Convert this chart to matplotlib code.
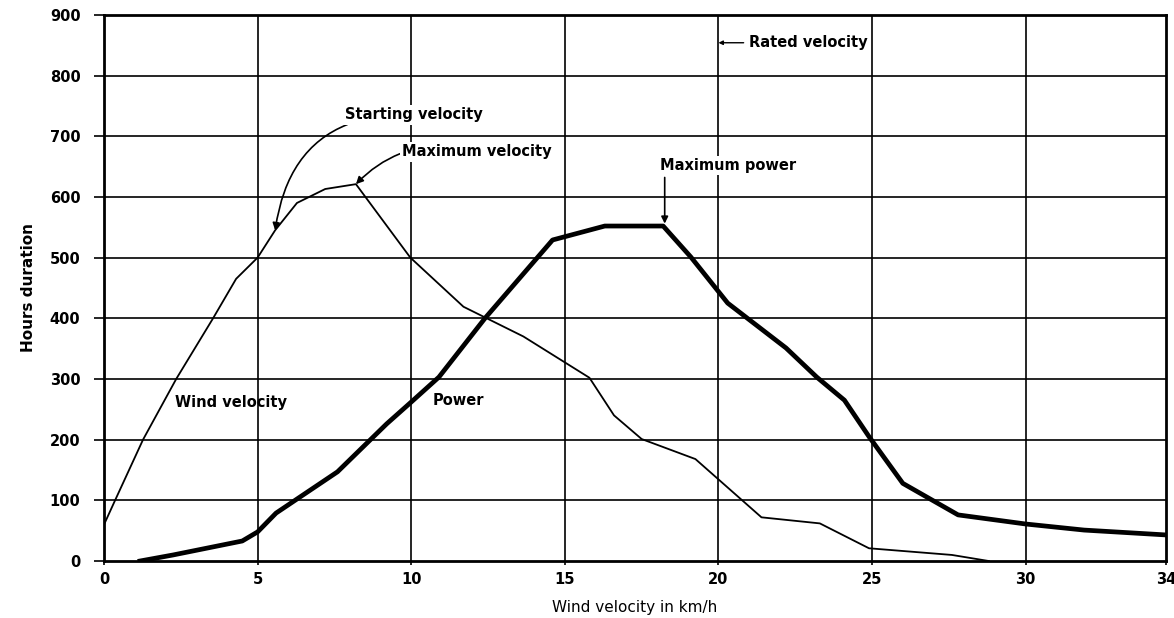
import matplotlib
matplotlib.use("Agg")
import matplotlib.pyplot as plt

# Wind velocity (hours duration) - thin curve
wind_x = [0, 0.36, 1.27, 2.35, 3.55, 4.3, 5.0, 5.57, 6.28, 7.2, 8.2,
          9.97, 11.7, 13.65, 15.8, 16.6, 17.5, 19.25, 21.4, 23.3, 24.9,
          27.6, 28.8]
wind_y = [60, 100, 200, 300, 400, 465, 500, 545, 590, 613, 621,
          500, 419, 370, 302, 240, 201, 168, 72, 62, 21,
          10, 0]

# Power (hours duration) - thick curve
power_x = [1.17, 2.25, 4.5, 5.0, 5.6, 7.6, 9.2, 10.0, 10.9, 12.4, 14.6,
           16.3, 18.2, 19.1, 20.3, 22.2, 23.2, 24.1, 24.9, 26.0, 27.8,
           30.0, 31.9, 34.56]
power_y = [0, 10, 33, 48, 79, 147, 226, 262, 303, 400, 529,
           552, 552, 501, 425, 351, 303, 265, 205, 128, 76,
           61, 51, 43]

x_ticks = [0, 5, 10, 15, 20, 25, 30, 34.56]
x_tick_labels = ["0", "5", "10", "15", "20", "25", "30", "34"]
y_ticks = [0, 100, 200, 300, 400, 500, 600, 700, 800, 900]

fig = plt.figure(figsize=(11.74, 6.18), dpi=100)
ax = fig.add_axes([0.0886, 0.0922, 0.9044, 0.8838])

# сетка
for xv in x_ticks[1:-1]:
    ax.axvline(xv, color="black", linewidth=1.2, zorder=1)
for yv in y_ticks[1:-1]:
    ax.axhline(yv, color="black", linewidth=1.2, zorder=1)

ax.plot(wind_x, wind_y, color="black", linewidth=1.3, zorder=3)
ax.plot(power_x, power_y, color="black", linewidth=3.4, zorder=3)

ax.set_xlim(0, 34.56)
ax.set_ylim(0, 900)
ax.set_xticks(x_ticks)
ax.set_xticklabels(x_tick_labels)
ax.set_yticks(y_ticks)
ax.tick_params(axis="y", length=7, width=1.2, pad=10, labelsize=10.5)
ax.tick_params(axis="x", length=3, width=1.2, pad=5, labelsize=10.5)
for lab in ax.get_xticklabels() + ax.get_yticklabels():
    lab.set_fontweight("bold")
for sp in ax.spines.values():
    sp.set_linewidth(2.0)

ax.set_ylabel("Hours duration", fontsize=11, fontweight="bold", labelpad=10)
ax.set_xlabel("Wind velocity in km/h", fontsize=11, labelpad=9)

txt = dict(fontsize=10.5, fontweight="semibold", va="center", ha="left", zorder=5)
box = dict(facecolor="white", edgecolor="none", pad=1.5)

ax.annotate("Starting velocity", xy=(5.57, 545), xytext=(7.85, 735),
            bbox=box, **txt,
            arrowprops=dict(arrowstyle="-|>", color="black", lw=1.2,
                            connectionstyle="arc3,rad=0.45",
                            shrinkA=0, shrinkB=0))
ax.annotate("Maximum velocity", xy=(8.2, 621), xytext=(9.7, 674),
            bbox=box, **txt,
            arrowprops=dict(arrowstyle="-|>", color="black", lw=1.2,
                            connectionstyle="arc3,rad=0.3",
                            shrinkA=0, shrinkB=0))
ax.text(18.1, 651, "Maximum power", bbox=box, **txt)
ax.annotate("", xy=(18.25, 556), xytext=(18.25, 632),
            arrowprops=dict(arrowstyle="-|>", color="black", lw=1.2,
                            shrinkA=0, shrinkB=0))
ax.annotate("Rated velocity", xy=(20, 854), xytext=(21.0, 854), **txt,
            arrowprops=dict(arrowstyle="-|>", color="black", lw=1.0,
                            mutation_scale=6, shrinkA=2, shrinkB=0))
ax.text(2.3, 262, "Wind velocity", **txt)
ax.text(10.7, 265, "Power", **txt)

fig.savefig("out.png", dpi=100)
